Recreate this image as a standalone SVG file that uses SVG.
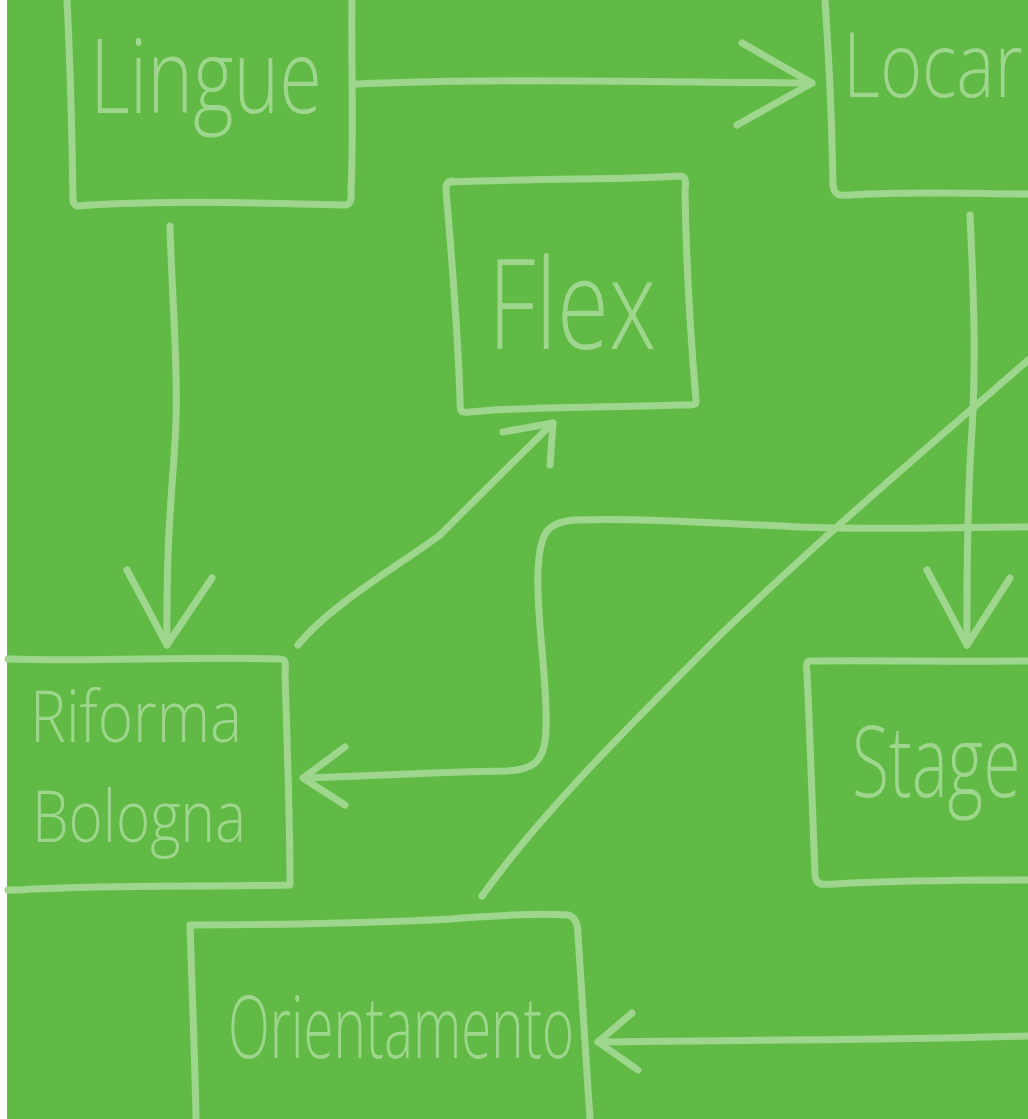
<svg xmlns="http://www.w3.org/2000/svg" width="1028" height="1119" viewBox="0 0 1028 1119">
<style>
.bg{fill:#62ba46}
.ln{fill:none;stroke:#9fd68e;stroke-width:7;stroke-linecap:round;stroke-linejoin:round}
.tx{fill:#9fd68e;font-family:"Open Sans","Liberation Sans",sans-serif;font-weight:300}
</style>
<rect x="0" y="0" width="1028" height="1119" fill="#ffffff"/>
<rect class="bg" x="7" y="0" width="1021" height="1119"/>
<g id="connectors">
<path class="ln" d="M357,84 C500,78 650,82 812,83"/>
<path class="ln" d="M742,43 L812,83 L737,125"/>
<path class="ln" d="M170,226 C172,300 178,360 176,420 C174,480 166,520 167,645"/>
<path class="ln" d="M127,570 L167,645 L212,578"/>
<path class="ln" d="M298,645 C330,605 400,565 440,535 C480,495 520,455 553,423"/>
<path class="ln" d="M503,432 L553,423 L550,465"/>
<path class="ln" d="M970,215 C974,300 976,360 972,430 C966,520 967,600 967,645"/>
<path class="ln" d="M927,570 L967,645 L1010,578"/>
<path class="ln" d="M1028,527 C950,527 880,530 800,527 C720,523 640,518 575,520 C545,522 540,535 538,570 C536,620 548,680 546,730 C545,765 530,770 505,771 C440,772 370,776 305,778"/>
<path class="ln" d="M345,747 L303,778 L345,805"/>
<path class="ln" d="M1028,360 C960,420 840,520 720,635 C620,735 540,815 482,896"/>
<path class="ln" d="M1028,1036 C900,1040 750,1040 598,1042"/>
<path class="ln" d="M632,1013 L598,1042 L638,1070"/>
</g>
<g id="node-lingue">
<path class="ln" d="M67,0 C70,60 72,130 73,200 C74,208 78,206 90,205 C180,200 260,203 345,205 C350,205 352,200 351,190 C354,130 351,60 352,0"/>
<text class="tx" x="90" y="113" font-size="104" textLength="232" lengthAdjust="spacingAndGlyphs">Lingue</text>
</g>
<g id="node-locar">
<path class="ln" d="M825,0 C829,60 832,120 833,185 C834,196 840,196 850,195 C920,191 980,194 1028,194"/>
<text class="tx" transform="translate(843,97) scale(0.8,1)" x="0" y="0" font-size="90">Locar</text>
</g>
<g id="node-flex">
<path class="ln" d="M450,182 C560,178 620,180 680,176 C686,176 686,182 685,190 C686,260 690,330 696,400 C697,406 692,405 680,405 C600,408 530,406 470,412 C460,413 460,412 460,400 C458,330 452,260 446,190 C446,183 448,181 452,181"/>
<text class="tx" x="488" y="349" font-size="126" textLength="168" lengthAdjust="spacingAndGlyphs">Flex</text>
</g>
<g id="node-riforma">
<path class="ln" d="M8,659 C100,662 190,656 280,659 C286,659 286,664 285,672 C287,740 290,820 290,885 C200,887 100,885 20,890 L8,890"/>
<text class="tx" x="30" y="742" font-size="72" textLength="212" lengthAdjust="spacingAndGlyphs">Riforma</text>
<text class="tx" x="32" y="842" font-size="72" textLength="214" lengthAdjust="spacingAndGlyphs">Bologna</text>
</g>
<g id="node-stage">
<path class="ln" d="M1028,661 C950,662 880,660 810,661 C806,661 806,666 807,672 C810,740 813,810 815,875 C816,885 820,885 835,884 C900,880 970,880 1028,880"/>
<text class="tx" transform="translate(852,797) scale(0.68,1)" x="0" y="0" font-size="100">Stage</text>
</g>
<g id="node-orientamento">
<path class="ln" d="M196,1119 C195,1060 192,990 190,925 C260,925 380,923 450,919 C500,915 540,913 568,915 C576,917 578,925 578,935 C582,1000 586,1060 590,1119"/>
<text class="tx" x="228" y="1058" font-size="86" textLength="346" lengthAdjust="spacingAndGlyphs">Orientamento</text>
</g>
</svg>
